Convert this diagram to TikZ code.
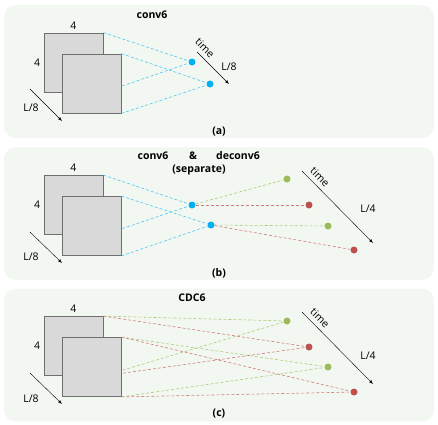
\documentclass[tikz,border=0pt]{standalone}
\usepackage{fontspec}
\setmainfont{Open Sans}
\usetikzlibrary{positioning,arrows}
\definecolor{panelgreen}{HTML}{F2F8F1}
\definecolor{featgray}{HTML}{D9D9D9}
\definecolor{featline}{HTML}{6F6F6F}
\definecolor{dotblue}{HTML}{00B0F0}
\definecolor{dotgreen}{HTML}{9BBB59}
\definecolor{dotred}{HTML}{C0504D}
\tikzstyle{panel} = [rectangle, rounded corners=12pt, fill=panelgreen, minimum width=430pt, minimum height=133pt]
\tikzstyle{feat} = [rectangle, draw=featline, fill=featgray, line width=0.8pt, minimum size=59pt, inner sep=0pt]
\tikzstyle{bluedot} = [circle, fill=dotblue, inner sep=0pt, minimum size=7pt]
\tikzstyle{greendot} = [circle, fill=dotgreen, inner sep=0pt, minimum size=7pt]
\tikzstyle{reddot} = [circle, fill=dotred, inner sep=0pt, minimum size=7pt]
\tikzstyle{blueline} = [draw=dotblue!70, dash pattern=on 3pt off 2pt, line width=0.6pt]
\tikzstyle{greenline} = [draw=dotgreen!80, dash pattern=on 3pt off 2pt, line width=0.6pt]
\tikzstyle{redline} = [draw=dotred!75, dash pattern=on 3pt off 2pt, line width=0.6pt]
\tikzstyle{title} = [font=\fontsize{10.5}{12}\selectfont\bfseries]

\begin{document}
\begin{tikzpicture}[x=1pt, y=-1pt, font=\fontsize{10.5}{12}\selectfont]
    \useasboundingbox (0,0) rectangle (438,424);

    \node(panelA)[panel] at (219,71.5){};
    \node(panelB)[panel] at (219,213.5){};
    \node(panelC)[panel] at (219,355){};

    % panel (a)
    \node(titleA)[title] at (152,15){conv6};
    \node(sqA1)[feat] at (73.5,62.5){};
    \node(dotA1)[bluedot] at (192,62){};
    \node(dotA2)[bluedot] at (210,84){};
    \draw[blueline] (sqA1.north east) -- (dotA1);
    \draw[blueline] (sqA1.south east) -- (dotA1);
    \node(sqA2)[feat] at (91.5,83.5){};
    \draw[blueline] (sqA2.north east) -- (dotA2);
    \draw[blueline] (sqA2.south east) -- (dotA2);
    \node[above=0pt of sqA1]{4};
    \node[left=0pt of sqA1]{4};
    \coordinate(inA1) at (30,89);
    \coordinate(inA2) at (62,121);
    \draw[-latex] (inA1) -- (inA2);
    \node at (31,108){L/8};
    \coordinate(timeA1) at (197,52);
    \coordinate(timeA2) at (229,84);
    \draw[-latex] (timeA1) -- (timeA2);
    \node[rotate=-45] at (205,48){time};
    \node at (229,67){L/8};
    \node(capA)[title] at (219,132){(a)};

    % panel (b)
    \node(titleB1)[title] at (153,156){conv6};
    \node(titleB2)[title] at (193,156){\&};
    \node(titleB3)[title] at (238,156){deconv6};
    \node(titleB4)[title] at (199,170){(separate)};
    \node(sqB1)[feat] at (73.5,205){};
    \node(dotB1)[bluedot] at (192,205){};
    \node(dotB2)[bluedot] at (211,225){};
    \node(greenB1)[greendot] at (287,179){};
    \node(redB1)[reddot] at (309,205){};
    \node(greenB2)[greendot] at (328,226){};
    \node(redB2)[reddot] at (354,250){};
    \draw[blueline] (sqB1.north east) -- (dotB1);
    \draw[blueline] (sqB1.south east) -- (dotB1);
    \node(sqB2)[feat] at (91.5,226){};
    \draw[blueline] (sqB2.north east) -- (dotB2);
    \draw[blueline] (sqB2.south east) -- (dotB2);
    \draw[greenline] (dotB1) -- (greenB1);
    \draw[redline] (dotB1) -- (redB1);
    \draw[greenline] (dotB2) -- (greenB2);
    \draw[redline] (dotB2) -- (redB2);
    \node[above=0pt of sqB1]{4};
    \node[left=0pt of sqB1]{4};
    \coordinate(inB1) at (30,232);
    \coordinate(inB2) at (62,263);
    \draw[-latex] (inB1) -- (inB2);
    \node at (31,257){L/8};
    \coordinate(timeB1) at (302,171);
    \coordinate(timeB2) at (373,243);
    \draw[-latex] (timeB1) -- (timeB2);
    \node[rotate=-45] at (320,177){time};
    \node at (368,209){L/4};
    \node(capB)[title] at (219,273){(b)};

    % panel (c)
    \node(titleC)[title] at (192,298){CDC6};
    \node(sqC1)[feat] at (73.5,346){};
    \node(greenC1)[greendot] at (287,321){};
    \node(redC1)[reddot] at (309,347){};
    \node(greenC2)[greendot] at (328,367){};
    \node(redC2)[reddot] at (354,392){};
    \draw[greenline] (sqC1.north east) -- (greenC1);
    \draw[redline] (sqC1.north east) -- (redC1);
    \draw[greenline] (sqC1.south east) -- (greenC1);
    \draw[redline] (sqC1.south east) -- (redC1);
    \node(sqC2)[feat] at (91.5,367){};
    \draw[greenline] (sqC2.north east) -- (greenC2);
    \draw[redline] (sqC2.north east) -- (redC2);
    \draw[greenline] (sqC2.south east) -- (greenC2);
    \draw[redline] (sqC2.south east) -- (redC2);
    \node[above=0pt of sqC1]{4};
    \node[left=0pt of sqC1]{4};
    \coordinate(inC1) at (30,373);
    \coordinate(inC2) at (62,404);
    \draw[-latex] (inC1) -- (inC2);
    \node at (31,399){L/8};
    \coordinate(timeC1) at (302,312);
    \coordinate(timeC2) at (373,384);
    \draw[-latex] (timeC1) -- (timeC2);
    \node[rotate=-45] at (320,318){time};
    \node at (368,356){L/4};
    \node(capC)[title] at (219,414){(c)};

\end{tikzpicture}
\end{document}
